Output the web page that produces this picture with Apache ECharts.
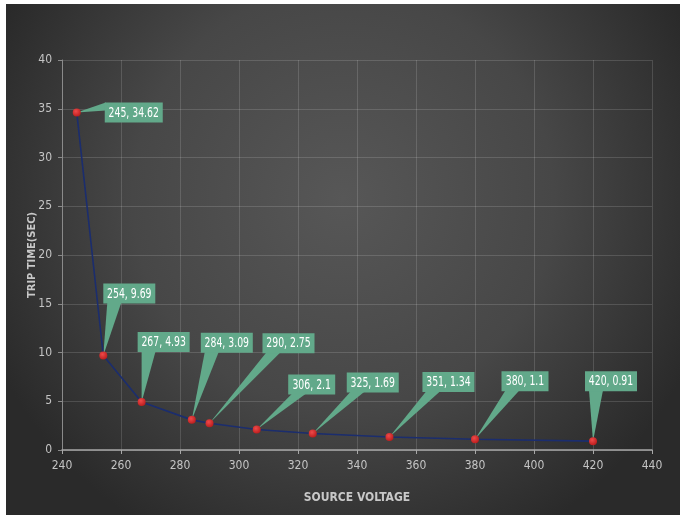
<!DOCTYPE html>
<html>
<head>
<meta charset="utf-8">
<script src="https://cdn.jsdelivr.net/npm/echarts@6/dist/echarts.min.js"></script>
<style>
  html, body { margin: 0; padding: 0; background: #ffffff; }
  #chart { width: 680px; height: 518px; }
</style>
</head>
<body>
<div id="chart"></div>
<script>
// Trip time of the relay against source voltage
const voltages = [245, 254, 267, 284, 290, 306, 325, 351, 380, 420];
const tripTimes = [34.62, 9.69, 4.93, 3.09, 2.75, 2.1, 1.69, 1.34, 1.1, 0.91];
const xTicks = [240, 260, 280, 300, 320, 340, 360, 380, 400, 420, 440];
const yTicks = [0, 5, 10, 15, 20, 25, 30, 35, 40];

// Callout box centre offset from its point, in pixels, and which side the pointer leaves from
const calloutOffsets = [
  [57, 0, 'left'], [26, -62, 'bottom'], [22, -60, 'bottom'], [35, -77, 'bottom'],
  [79, -80, 'bottom'], [55, -45, 'bottom'], [60, -51, 'bottom'], [59, -55, 'bottom'],
  [50, -58, 'bottom'], [18, -60, 'bottom']
];

const FONT = '"DejaVu Sans Condensed", "DejaVu Sans", sans-serif';
const labelFontSize = 14;
const labelSquash = 0.74;
const calloutColor = '#62a98a';

const measureCtx = document.createElement('canvas').getContext('2d');
function textWidth(s) {
  measureCtx.font = labelFontSize + 'px ' + FONT;
  return measureCtx.measureText(s).width * labelSquash;
}

const points = voltages.map((v, i) => [v, tripTimes[i]]);

const chart = echarts.init(document.getElementById('chart'));

chart.setOption({
  backgroundColor: '#ffffff',
  animation: false,
  graphic: [{
    type: 'rect',
    z: -10,
    silent: true,
    shape: { x: 6, y: 4, width: 674, height: 511 },
    style: {
      fill: {
        type: 'radial', x: 0.5, y: 0.38, r: 0.75,
        colorStops: [
          { offset: 0, color: '#575757' },
          { offset: 0.55, color: '#474747' },
          { offset: 1, color: '#2a2a2a' }
        ]
      }
    }
  }],
  grid: { left: 62, right: 28, top: 60, bottom: 68 },
  xAxis: {
    type: 'value',
    min: xTicks[0],
    max: xTicks[xTicks.length - 1],
    interval: xTicks[1] - xTicks[0],
    name: 'SOURCE VOLTAGE',
    nameLocation: 'middle',
    nameGap: 42,
    nameMoveOverlap: false,
    nameTextStyle: { color: '#c8c8c8', fontSize: 12, fontWeight: 'bold', fontFamily: FONT },
    axisLine: { lineStyle: { color: '#a8a8a8', width: 1.5 } },
    axisTick: { show: true, length: 4, lineStyle: { color: '#a8a8a8' } },
    axisLabel: { color: '#c4c4c4', fontSize: 12, fontFamily: FONT, margin: 10 },
    splitLine: { lineStyle: { color: 'rgba(255,255,255,0.14)', width: 1 } }
  },
  yAxis: {
    type: 'value',
    min: yTicks[0],
    max: yTicks[yTicks.length - 1],
    interval: yTicks[1] - yTicks[0],
    name: 'TRIP TIME(SEC)',
    nameLocation: 'middle',
    nameGap: 24,
    nameMoveOverlap: false,
    nameRotate: 90,
    nameTextStyle: { color: '#c8c8c8', fontSize: 11, fontWeight: 'bold', fontFamily: FONT },
    axisLine: { show: true, lineStyle: { color: '#8a8a8a', width: 1 } },
    axisTick: { show: true, length: 4, lineStyle: { color: '#8a8a8a' } },
    axisLabel: { color: '#c4c4c4', fontSize: 12, fontFamily: FONT, margin: 10 },
    splitLine: { lineStyle: { color: 'rgba(255,255,255,0.14)', width: 1 } }
  },
  series: [
    {
      type: 'custom',
      z: 2,
      silent: true,
      data: points,
      renderItem: function (params, api) {
        const i = params.dataIndex;
        const x = api.value(0), y = api.value(1);
        const p = api.coord([x, y]);
        const off = calloutOffsets[i];
        const text = x + ', ' + y;
        const w = Math.round(textWidth(text)) + 8;
        const h = 20;
        const cx = p[0] + off[0], cy = p[1] + off[1];
        const left = cx - w / 2, top = cy - h / 2;
        let wedge;
        if (off[2] === 'left') {
          wedge = [[p[0], p[1]], [left + 1, top], [left + 1, top + 8]];
        } else {
          wedge = [[p[0], p[1]], [left + 4, top + h - 1], [left + 18, top + h - 1]];
        }
        return {
          type: 'group',
          children: [
            { type: 'polygon', shape: { points: wedge }, style: { fill: calloutColor } },
            { type: 'rect', shape: { x: left, y: top, width: w, height: h }, style: { fill: calloutColor } },
            {
              type: 'text',
              x: cx, y: cy + 0.5,
              scaleX: labelSquash,
              style: {
                x: 0, y: 0, text: text, fill: '#ffffff',
                font: labelFontSize + 'px ' + FONT,
                align: 'center', verticalAlign: 'middle'
              }
            }
          ]
        };
      }
    },
    {
      type: 'line',
      z: 3,
      data: points,
      symbol: 'circle',
      symbolSize: 8,
      lineStyle: { color: '#1b2d6e', width: 1.6 },
      itemStyle: {
        color: {
          type: 'radial', x: 0.4, y: 0.35, r: 0.7,
          colorStops: [{ offset: 0, color: '#ef4a4a' }, { offset: 1, color: '#b81b1b' }]
        },
        borderWidth: 0
      },
      label: { show: false }
    }
  ]
});
</script>
</body>
</html>
